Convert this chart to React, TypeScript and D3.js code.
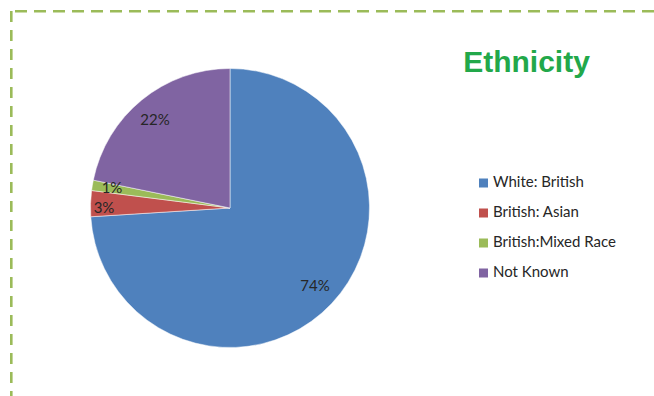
import React from "react";
import * as d3 from "d3";

const categories = ["White: British", "British: Asian", "British:Mixed Race", "Not Known"];
const values = [74, 3, 1.2, 21.8];
const labels = ["74%", "3%", "1%", "22%"];
const colors = ["#4f81bd", "#c0504d", "#9bbb59", "#8064a2"];

export default function App() {
  const W = 654, H = 396;
  const cx = 230, cy = 208, r = 139.5;
  const pie = d3.pie<number>().sort(null).value((d) => d)(values);
  const arc = d3.arc<d3.PieArcDatum<number>>().innerRadius(0).outerRadius(r);
  const labelPos: [number, number][] = [
    [315, 287],
    [104, 209],
    [112, 189],
    [155, 121],
  ];
  const legendY = d3.scalePoint<string>().domain(categories).range([183, 273]);
  return (
    <svg width={W} height={H} style={{ position: "absolute", left: 0, top: 0 }}>
      <rect x={0} y={0} width={W} height={H} fill="#fff" />
      <line x1={11.3} y1={11} x2={11.3} y2={H + 5} stroke="#9bbb59" strokeWidth={2.6} strokeDasharray="11 8" />
      <line x1={15} y1={11.3} x2={W + 5} y2={11.3} stroke="#9bbb59" strokeWidth={2.6} strokeDasharray="12 7" />
      <g transform={`translate(${cx},${cy})`}>
        {pie.map((p, i) => (
          <path key={i} d={arc(p) || ""} fill={colors[i]} stroke="#fff" strokeWidth={0.5} />
        ))}
      </g>
      {labels.map((l, i) => (
        <text
          key={i}
          x={labelPos[i][0]}
          y={labelPos[i][1]}
          textAnchor="middle"
          dominantBaseline="middle"
          fontFamily="Lato, 'Open Sans', sans-serif"
          fontSize={15}
          fill="#262626"
        >
          {l}
        </text>
      ))}
      <text x={526.5} y={72} textAnchor="middle" fontFamily="'Liberation Sans', Arial, sans-serif" fontWeight="bold" fontSize={30} fill="#22a84a">
        Ethnicity
      </text>
      {categories.map((c, i) => (
        <g key={c} transform={`translate(479,${legendY(c)})`}>
          <rect x={0} y={-4.5} width={9} height={9} fill={colors[i]} />
          <text x={14} y={0.5} dominantBaseline="middle" fontFamily="Lato, 'Open Sans', sans-serif" fontSize={15} fill="#262626">
            {c}
          </text>
        </g>
      ))}
    </svg>
  );
}
